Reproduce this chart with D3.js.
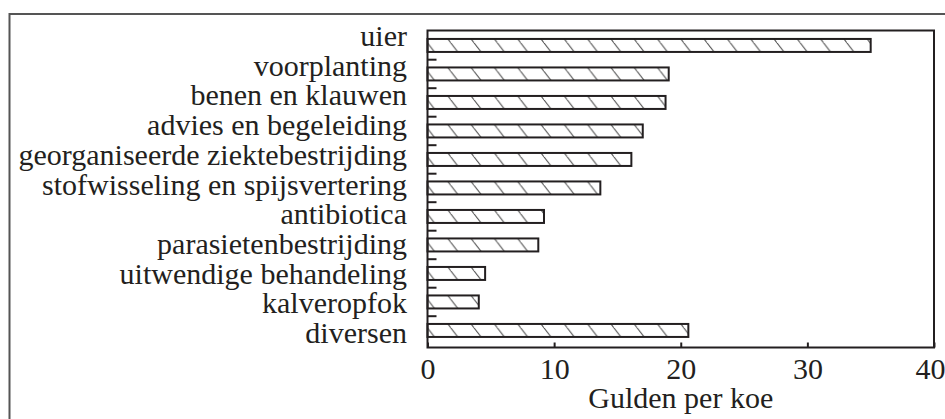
<!DOCTYPE html>
<html>
<head>
<meta charset="utf-8">
<script src="https://cdn.jsdelivr.net/npm/d3@7"></script>
<style>
  html, body { margin: 0; padding: 0; background: #fff; }
  svg { display: block; }
</style>
</head>
<body>
<svg id="chart" width="945" height="419"></svg>
<script>
const categories = [
  "uier", "voorplanting", "benen en klauwen", "advies en begeleiding",
  "georganiseerde ziektebestrijding", "stofwisseling en spijsvertering",
  "antibiotica", "parasietenbestrijding", "uitwendige behandeling",
  "kalveropfok", "diversen"
];
const values = [35.0, 19.05, 18.8, 17.0, 16.1, 13.65, 9.2, 8.75, 4.55, 4.05, 20.6];
const xTicks = [0, 10, 20, 30, 40];
const xTitle = "Gulden per koe";

(function () {
const ink = "#231f20";
const fam = '"Liberation Serif"';
const svg = d3.select("#chart");

// outer grey border (runs off the right/bottom edges)
svg.append("rect")
  .attr("x", 9.5).attr("y", 14).attr("width", 1000).attr("height", 500)
  .attr("fill", "none").attr("stroke", "#555").attr("stroke-width", 2);

const pLeft = 427.5, pRight = 934, pTop = 30.5, pBottom = 347.5;

const x = d3.scaleLinear().domain([0, 40]).range([pLeft, pRight]);
const step = 28.5;
const y = d3.scaleBand().domain(categories)
  .range([31.2, 31.2 + step * categories.length])
  .paddingInner(0.544).paddingOuter(0.272);
const labelY = d3.scalePoint().domain(categories).range([46, 343]);

// hatch pattern
const defs = svg.append("defs");
const hatchW = 23.3;
const pat = defs.append("pattern")
  .attr("id", "hatch")
  .attr("patternUnits", "userSpaceOnUse")
  .attr("x", pLeft).attr("y", y(categories[0]))
  .attr("width", hatchW).attr("height", y.step());
[-3, -3 + hatchW].forEach(o => {
  pat.append("line")
    .attr("x1", o).attr("y1", 0)
    .attr("x2", o + 10).attr("y2", y.bandwidth())
    .attr("stroke", "#333").attr("stroke-width", 1);
});

// bars
svg.append("g").selectAll("rect")
  .data(categories)
  .join("rect")
  .attr("x", x(0))
  .attr("y", d => y(d))
  .attr("width", (d, i) => x(values[i]) - x(0))
  .attr("height", y.bandwidth())
  .attr("fill", "url(#hatch)")
  .attr("stroke", ink)
  .attr("stroke-width", 2);

// frame
svg.append("rect")
  .attr("x", pLeft).attr("y", pTop)
  .attr("width", pRight - pLeft).attr("height", pBottom - pTop)
  .attr("fill", "none").attr("stroke", ink).attr("stroke-width", 2);

// y ticks between bands
const gap = y.step() - y.bandwidth();
svg.append("g").selectAll("line")
  .data(categories.slice(1))
  .join("line")
  .attr("x1", pLeft).attr("x2", pLeft + 9)
  .attr("y1", d => y(d) - gap / 2)
  .attr("y2", d => y(d) - gap / 2)
  .attr("stroke", ink).attr("stroke-width", 2);

// category labels
svg.append("g").selectAll("text")
  .data(categories)
  .join("text")
  .attr("x", 407)
  .attr("y", d => labelY(d))
  .attr("text-anchor", "end")
  .style("font-family", fam)
  .style("font-size", "30px")
  .attr("fill", ink)
  .text(d => d);

// x axis
const xAxis = svg.append("g")
  .attr("transform", `translate(0,${pBottom})`)
  .call(d3.axisBottom(x).tickValues(xTicks).tickSize(-5).tickFormat(d3.format("d")));
xAxis.select(".domain").remove();
xAxis.selectAll(".tick line").attr("stroke", ink).attr("stroke-width", 2);
xAxis.selectAll(".tick text")
  .attr("y", 31.5).attr("dy", 0)
  .attr("x", d => d === 40 ? -4 : 0)
  .style("font-family", fam)
  .style("font-size", "30px").attr("fill", ink);

svg.append("text")
  .attr("x", (pLeft + pRight) / 2)
  .attr("y", 408)
  .attr("text-anchor", "middle")
  .style("font-family", fam)
  .style("font-size", "30px").attr("fill", ink)
  .text(xTitle);
})();
</script>
</body>
</html>
